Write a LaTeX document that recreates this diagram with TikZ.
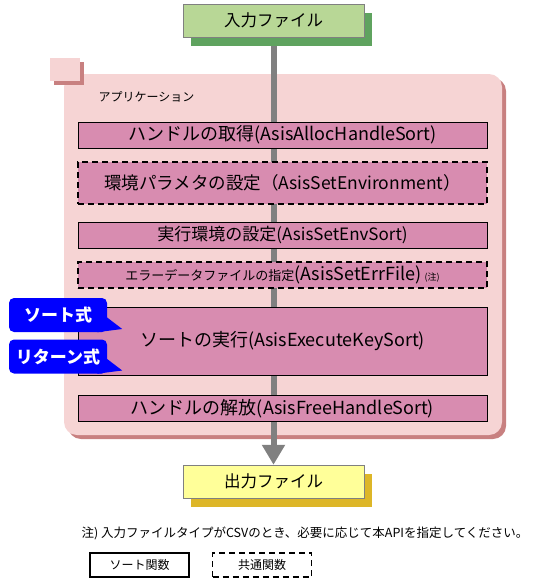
\documentclass[tikz,border=0pt]{standalone}
\usepackage{fontspec}
\setmainfont{Noto Sans CJK JP}
\usetikzlibrary{shapes,shadows}
\usetikzlibrary{arrows.meta,positioning,calc}

\definecolor{appbg}{RGB}{246,212,212}
\definecolor{appshadow}{RGB}{200,128,128}
\definecolor{funcfill}{RGB}{216,140,176}
\definecolor{ingreen}{RGB}{184,215,150}
\definecolor{ingreendark}{RGB}{95,163,95}
\definecolor{outyellow}{RGB}{255,255,153}
\definecolor{outyellowdark}{RGB}{221,182,40}
\definecolor{flowgray}{RGB}{128,128,128}

\pgfdeclarelayer{back}
\pgfdeclarelayer{mid}
\pgfsetlayers{back,mid,main}

\tikzset{
  iobox/.style={draw=flowgray, fill=#1, minimum width=181pt, minimum height=33pt,
    inner sep=0pt, font=\fontsize{16.5}{19}\selectfont},
  funcbox/.style={draw, fill=funcfill, minimum width=409pt, minimum height=26pt,
    inner sep=0pt, font=\fontsize{18}{20}\selectfont},
  commonbox/.style={funcbox, line width=1.6pt, dash pattern=on 6pt off 4pt},
  bubble/.style={fill=blue, text=white, rounded corners=5pt, minimum width=98pt,
    minimum height=34pt, inner sep=0pt, font=\fontsize{17}{20}\selectfont\bfseries},
  legendbox/.style={draw, line width=1.6pt, minimum width=99pt, minimum height=24pt,
    inner sep=0pt, font=\fontsize{12}{14}\selectfont},
}

\begin{document}
\begin{tikzpicture}[x=1pt, y=-1pt, node distance=48pt, auto,]

    \useasboundingbox (0,0) rectangle (534,579);

    % input / output files
    \node[iobox=ingreen, drop shadow={shadow xshift=8pt, shadow yshift=-9pt,
        fill=ingreendark, opacity=1}] (input) at (273.5,20.5) {入力ファイル};
    \node[iobox=outyellow, drop shadow={shadow xshift=8pt, shadow yshift=-9pt,
        fill=outyellowdark, opacity=1}, below of=input, node distance=461pt] (output) {出力ファイル};

    % application frame
    \begin{pgfonlayer}{back}
      \fill[appshadow, rounded corners=13pt] (68,78) rectangle (506,439);
      \fill[appbg, rounded corners=13pt] (64,74) rectangle (502,435);
    \end{pgfonlayer}
    \fill[appshadow] (54,62) rectangle (84,85);
    \fill[appbg] (50,58) rectangle (80,81);
    \node[anchor=west, font=\fontsize{12}{14}\selectfont] (app) at (95,97) {アプリケーション};

    % API calls
    \node[funcbox] (alloc) at (282.5,135) {ハンドルの取得(AsisAllocHandleSort)};
    \node[commonbox, minimum height=42pt, font=\fontsize{17.5}{20}\selectfont, below of=alloc] (setenv)
        {環境パラメタの設定（AsisSetEnvironment）};
    \node[funcbox, font=\fontsize{17}{20}\selectfont, below of=setenv, node distance=52pt] (envsort)
        {実行環境の設定(AsisSetEnvSort)};
    \node[commonbox, below of=envsort, node distance=40pt] (errfile)
        {{\fontsize{13}{16}\selectfont エラーデータファイルの指定}(AsisSetErrFile)\,{\fontsize{9}{11}\selectfont (注)}};
    \node[funcbox, minimum height=68pt, below of=errfile, node distance=66pt] (execute)
        {ソートの実行(AsisExecuteKeySort)};
    \node[funcbox, below of=execute, node distance=67.5pt] (free)
        {ハンドルの解放(AsisFreeHandleSort)};

    % flow
    \begin{pgfonlayer}{mid}
      \draw[flowgray, line width=6pt, -{Triangle[length=20pt,width=22pt]}]
        (input.south) -- (output.north);
    \end{pgfonlayer}

    % expressions
    \node[bubble] (sortexp) at (58,315) {ソート式};
    \node[bubble, below of=sortexp, node distance=41.5pt] (retexp) {リターン式};
    \fill[blue] ($(sortexp.east)+(-2,1)$) -- ($(sortexp.east)+(15,14)$)
        -- ($(sortexp.south east)+(-10,0)$) -- cycle;
    \fill[blue] ($(retexp.east)+(-2,1)$) -- ($(retexp.east)+(15,14)$)
        -- ($(retexp.south east)+(-10,0)$) -- cycle;

    % note and legend
    \node[anchor=west, font=\fontsize{12.5}{14}\selectfont] (note) at (78,533)
        {注) 入力ファイルタイプがCSVのとき、必要に応じて本APIを指定してください。};
    \node[legendbox] (legsort) at (139.5,565) {ソート関数};
    \node[legendbox, dash pattern=on 6pt off 4pt, right of=legsort, node distance=122.5pt]
        (legcommon) {共通関数};

\end{tikzpicture}
\end{document}
